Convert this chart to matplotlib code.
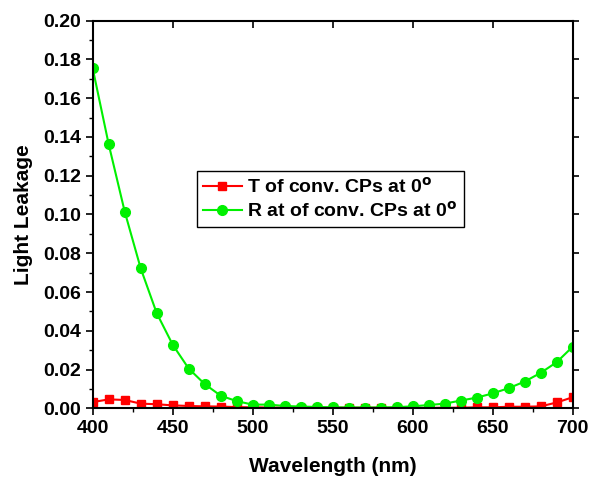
import numpy as np
import matplotlib
matplotlib.use("Agg")
import matplotlib.pyplot as plt
from matplotlib.ticker import MultipleLocator

# dados (passo de 10 nm)
wavelength = np.arange(400, 701, 10)

T_conv = [0.0032, 0.0046, 0.0043, 0.0024, 0.0021, 0.0015, 0.0012, 0.0010, 0.0009, 0.0006,
          0.0005, 0.0004, 0.0003, 0.0003, 0.0003, 0.0003, 0.0003, 0.0003, 0.0003, 0.0002,
          0.0002, 0.0002, 0.0003, 0.0003, 0.0005, 0.0005, 0.0008, 0.0008, 0.0010, 0.0030,
          0.0057]

R_conv = [0.1754, 0.1362, 0.1015, 0.0722, 0.0491, 0.0328, 0.0205, 0.0125, 0.0065, 0.0037,
          0.0019, 0.0019, 0.0012, 0.0009, 0.0007, 0.0005, 0.0004, 0.0004, 0.0004, 0.0006,
          0.0010, 0.0017, 0.0024, 0.0040, 0.0055, 0.0077, 0.0104, 0.0138, 0.0183, 0.0238,
          0.0318]

plt.rcParams['font.family'] = ['Liberation Sans', 'DejaVu Sans']
plt.rcParams['font.weight'] = 'bold'
plt.rcParams['mathtext.default'] = 'bf'

fig = plt.figure(figsize=(5.92, 4.79), dpi=100)
ax = fig.add_axes([0.1566, 0.1476, 0.9674 - 0.1566, 0.9568 - 0.1476])

ax.plot(wavelength, T_conv, color='#ff0000', lw=1.5, marker='s', ms=6, label=r'T of conv. CPs at 0$^{\rm o}$')
ax.plot(wavelength, R_conv, color='#00f000', lw=1.5, marker='o', ms=7, label=r'R at of conv. CPs at 0$^{\rm o}$')

ax.set_xlim(400, 700)
ax.set_ylim(0, 0.20)
ax.xaxis.set_major_locator(MultipleLocator(50))
ax.xaxis.set_minor_locator(MultipleLocator(25))
ax.yaxis.set_major_locator(MultipleLocator(0.02))
ax.yaxis.set_minor_locator(MultipleLocator(0.01))
ax.yaxis.set_major_formatter(matplotlib.ticker.FormatStrFormatter('%.2f'))

for s in ax.spines.values():
    s.set_linewidth(1.5)

ax.tick_params(which='major', direction='out', length=5, width=1.2, labelsize=14)
ax.tick_params(which='minor', direction='out', length=3, width=1.0)

# eixos espelhados: topo com ticks para dentro, direita para fora
top = ax.secondary_xaxis('top')
top.set_xticks(np.arange(400, 701, 50))
top.tick_params(direction='in', length=5, width=1.2, labeltop=False)
top.spines['top'].set_visible(False)
right = ax.secondary_yaxis('right')
right.set_yticks(np.arange(0, 0.201, 0.02))
right.tick_params(direction='out', length=4, width=1.2, labelright=False)
right.spines['right'].set_visible(False)

ax.set_xlabel('Wavelength (nm)', fontsize=15, fontweight='bold', labelpad=14)
ax.set_ylabel('Light Leakage', fontsize=15, fontweight='bold', labelpad=7)

leg = ax.legend(loc='upper left', bbox_to_anchor=(0.217, 0.612), borderaxespad=0,
                fontsize=14, handlelength=2.0, handletextpad=0.3, borderpad=0.3,
                labelspacing=0.2, fancybox=False, framealpha=1, edgecolor='black')
leg.get_frame().set_linewidth(1.0)

fig.savefig('out.png', dpi=100)
